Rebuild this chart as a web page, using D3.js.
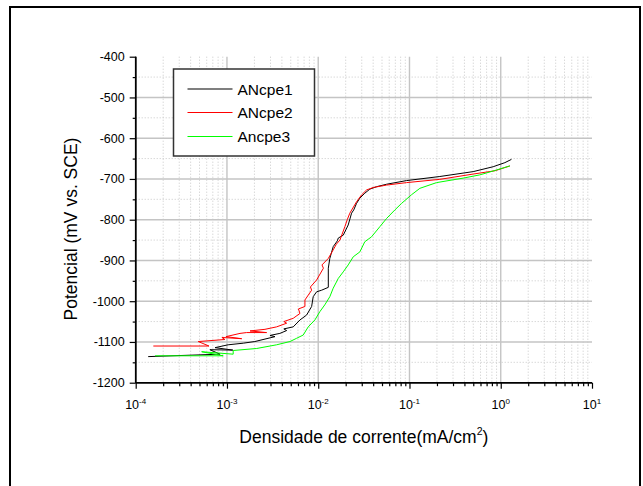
<!DOCTYPE html>
<html>
<head>
<meta charset="utf-8">
<script src="https://cdn.jsdelivr.net/npm/d3@7"></script>
<style>
  html, body { margin: 0; padding: 0; background: #fff; }
  svg { display: block; font-family: "Liberation Sans", Arial, sans-serif; }
</style>
</head>
<body>
<svg id="chart" width="643" height="486"></svg>
<script>
// ---------- DATA ----------
const seriesNames = ["ANcpe1", "ANcpe2", "Ancpe3"];
const seriesColors = ["#000000", "#ff0000", "#00ff00"];

// [current density (mA/cm2), potential (mV vs SCE)]
const ancpe1 = [
  [1.37e-4,-1136],[8.4e-4,-1130],[6.5e-4,-1119],[1.16e-3,-1120],[7.4e-4,-1114],
  [1.03e-3,-1107],[1.51e-3,-1103],[2.02e-3,-1099],[3.36e-3,-1087],[2.96e-3,-1084],
  [3.80e-3,-1079],[4.51e-3,-1072],[4.2e-3,-1068],[5.32e-3,-1063],[6.31e-3,-1046],
  [7.46e-3,-1034],[8.47e-3,-1013],[8.81e-3,-989],[9.6e-3,-977],[1.09e-2,-973],
  [1.29e-2,-966],[1.29e-2,-919],[1.34e-2,-895],[1.46e-2,-866],[1.62e-2,-852],
  [1.66e-2,-845],[1.88e-2,-838],[2.13e-2,-813],[2.32e-2,-784],[2.45e-2,-776],
  [2.63e-2,-760],[2.86e-2,-747],[3.24e-2,-735],[3.68e-2,-725],[4.36e-2,-719],
  [5.61e-2,-713],[9.29e-2,-704],[0.215,-694],[0.499,-682],[0.826,-670],[1.11,-660],[1.31,-652]
];
const ancpe2 = [
  [1.56e-4,-1110],[6.35e-4,-1110],[4.85e-4,-1099],[9.5e-4,-1094],[8.8e-4,-1089],
  [1.45e-3,-1092],[9.75e-4,-1087],[1.39e-3,-1079],[1.64e-3,-1077],[2.72e-3,-1077],
  [1.79e-3,-1073],[2.61e-3,-1069],[3.5e-3,-1063],[4.51e-3,-1054],[4.2e-3,-1050],
  [5.32e-3,-1042],[6.31e-3,-1030],[6.07e-3,-1019],[7.15e-3,-1013],[7.15e-3,-997],
  [8.47e-3,-973],[8.22e-3,-965],[9.6e-3,-948],[1.14e-2,-919],[1.10e-2,-911],
  [1.29e-2,-895],[1.46e-2,-874],[1.58e-2,-860],[1.73e-2,-850],[1.96e-2,-817],
  [2.08e-2,-800],[2.22e-2,-784],[2.63e-2,-756],[2.99e-2,-739],[3.39e-2,-727],
  [4.0e-2,-721],[5.61e-2,-715],[9.29e-2,-709],[0.215,-701],[0.499,-688],[0.861,-680],[1.26,-668]
];
const ancpe3 = [
  [1.63e-4,-1134],[9.1e-4,-1134],[5.28e-4,-1124],[1.17e-3,-1130],[1.17e-3,-1121],
  [2.12e-3,-1116],[3.5e-3,-1107],[4.9e-3,-1099],[5.8e-3,-1091],[6.85e-3,-1083],
  [7.77e-3,-1063],[9.2e-3,-1046],[1.04e-2,-1026],[1.18e-2,-1009],[1.34e-2,-989],
  [1.46e-2,-968],[1.66e-2,-944],[1.88e-2,-928],[2.13e-2,-911],[2.42e-2,-891],
  [2.86e-2,-879],[3.24e-2,-854],[3.84e-2,-842],[4.74e-2,-817],[5.61e-2,-797],
  [6.92e-2,-776],[8.19e-2,-760],[0.105,-739],[0.130,-723],[0.198,-709],
  [0.387,-698],[0.590,-690],[0.899,-678],[1.26,-668]
];
const allSeries = [ancpe1, ancpe2, ancpe3];

const yMajorTicks = [-400,-500,-600,-700,-800,-900,-1000,-1100,-1200];
const xDecadeExponents = [-4,-3,-2,-1,0,1];

// ---------- LAYOUT ----------
const svg = d3.select("#chart");
const L = 135.7, R = 592, T = 56.7, B = 382.7;
const x = d3.scaleLog().domain([1e-4, 10]).range([L, R]);
const y = d3.scaleLinear().domain([-1200, -400]).range([B, T]);

const font = '"Liberation Sans", Arial, sans-serif';

// outer frame
svg.append("rect").attr("x", 10).attr("y", 7).attr("width", 630).attr("height", 520)
  .attr("fill", "none").attr("stroke", "#000").attr("stroke-width", 2);

// ---------- GRID ----------
const grid = svg.append("g");
const xAllTicks = x.ticks();
const xMajorVals = xDecadeExponents.map(e => Math.pow(10, e));
const isMajorX = v => xMajorVals.some(m => Math.abs(m - v) / m < 1e-6);
const xMinorVals = xAllTicks.filter(v => !isMajorX(v));
const yMinorVals = d3.range(-1150, -400, 100);

grid.selectAll(".xminor").data(xMinorVals).join("line")
  .attr("x1", d => x(d)).attr("x2", d => x(d)).attr("y1", T).attr("y2", B)
  .attr("stroke", "#c8c8c8").attr("stroke-width", 1).attr("stroke-dasharray", "1,2");
grid.selectAll(".yminor").data(yMinorVals).join("line")
  .attr("x1", L).attr("x2", R).attr("y1", d => y(d)).attr("y2", d => y(d))
  .attr("stroke", "#c8c8c8").attr("stroke-width", 1).attr("stroke-dasharray", "1,2");
grid.selectAll(".xmajor").data(xMajorVals.slice(1, -1)).join("line")
  .attr("x1", d => x(d)).attr("x2", d => x(d)).attr("y1", T).attr("y2", B)
  .attr("stroke", "#c4c4c4").attr("stroke-width", 1.4);
grid.selectAll(".ymajor").data(yMajorTicks.slice(1, -1)).join("line")
  .attr("x1", L).attr("x2", R).attr("y1", d => y(d)).attr("y2", d => y(d))
  .attr("stroke", "#c4c4c4").attr("stroke-width", 1.4);

// ---------- SERIES ----------
const line = d3.line().x(d => x(d[0])).y(d => y(d[1]));
svg.append("g").selectAll("path").data(allSeries).join("path")
  .attr("d", line).attr("fill", "none")
  .attr("stroke", (d, i) => seriesColors[i]).attr("stroke-width", 1);

// ---------- AXES ----------
const yAxis = svg.append("g").attr("transform", `translate(${L},0)`)
  .call(d3.axisLeft(y).tickValues(yMajorTicks).tickSize(6).tickPadding(5)
    .tickFormat(d => String(d)));
const yMinorAxis = svg.append("g").attr("transform", `translate(${L},0)`)
  .call(d3.axisLeft(y).tickValues(yMinorVals).tickSize(3).tickFormat(""));
const xAxis = svg.append("g").attr("transform", `translate(0,${B})`)
  .call(d3.axisBottom(x).tickValues(xMajorVals).tickSize(6).tickFormat(""));
const xMinorAxis = svg.append("g").attr("transform", `translate(0,${B})`)
  .call(d3.axisBottom(x).tickValues(xMinorVals).tickSize(3.5).tickFormat(""));

[yAxis, yMinorAxis, xAxis, xMinorAxis].forEach(g => {
  g.select(".domain").attr("stroke", "#000").attr("stroke-width", 1.5);
  g.selectAll(".tick line").attr("stroke", "#000").attr("stroke-width", 1.2);
});
yAxis.selectAll(".tick text").attr("font-family", font).attr("font-size", 12.5).attr("fill", "#000");
yMinorAxis.select(".domain").attr("d", `M0,${T}V${B}`);
xMinorAxis.select(".domain").attr("d", `M${L},0H${R}`);
yAxis.select(".domain").attr("d", `M0,${T}V${B}`);
xAxis.select(".domain").attr("d", `M${L},0H${R}`);

// x tick labels with superscripts
const xl = svg.append("g").selectAll("text").data(xDecadeExponents).join("text")
  .attr("x", d => x(Math.pow(10, d))).attr("y", 409)
  .attr("text-anchor", "middle").attr("font-family", font).attr("font-size", 12.5).attr("fill", "#000");
xl.append("tspan").text("10");
xl.append("tspan").attr("dy", -5).attr("font-size", 8).text(d => String(d));

// axis titles
const xt = svg.append("text").attr("x", (L + R) / 2).attr("y", 443)
  .attr("text-anchor", "middle").attr("font-family", font).attr("font-size", 17.5).attr("fill", "#000");
xt.append("tspan").text("Densidade de corrente(mA/cm");
xt.append("tspan").attr("dy", -8).attr("font-size", 10.5).text("2");
xt.append("tspan").attr("dy", 8).text(")");

svg.append("text").attr("transform", "translate(76.5,229) rotate(-90)")
  .attr("text-anchor", "middle").attr("font-family", font).attr("font-size", 17.5).attr("fill", "#000")
  .text("Potencial (mV vs. SCE)");

// ---------- LEGEND ----------
const lg = svg.append("g");
lg.append("rect").attr("x", 173.5).attr("y", 69).attr("width", 141).attr("height", 87)
  .attr("fill", "#fff").attr("stroke", "#333").attr("stroke-width", 1.5);
const rowsY = [89, 112.5, 136.5];
const items = lg.selectAll(".item").data(seriesNames).join("g")
  .attr("transform", (d, i) => `translate(0,${rowsY[i]})`);
items.append("line").attr("x1", 187.5).attr("x2", 232.5).attr("y1", 0).attr("y2", 0)
  .attr("stroke", (d, i) => seriesColors[i]).attr("stroke-width", 1.2);
items.append("text").attr("x", 237.5).attr("y", 5.5)
  .attr("font-family", font).attr("font-size", 15.5).attr("fill", "#000").text(d => d);
</script>
</body>
</html>
